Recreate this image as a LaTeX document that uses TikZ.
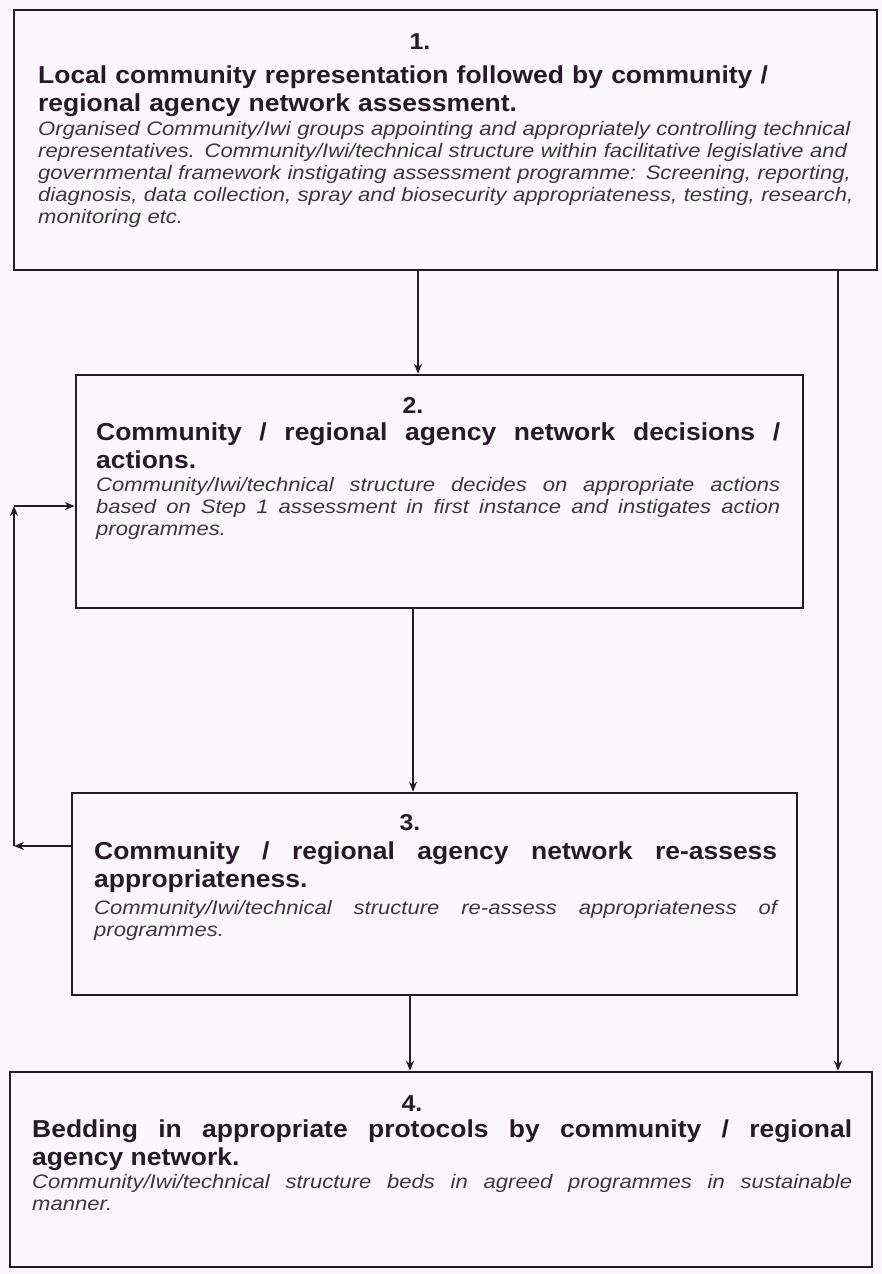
\documentclass[tikz,border=0pt]{standalone}
\usepackage{fontspec}
\setmainfont{Liberation Sans}
\newfontfamily\headfont[FakeStretch=1.08]{Liberation Sans}
\newfontfamily\bodyfont[FakeStretch=1.13]{Liberation Sans}
\usetikzlibrary{arrows.meta}
\definecolor{ink}{RGB}{38,26,40}
\definecolor{bodyink}{RGB}{60,55,62}
\definecolor{paper}{RGB}{250,247,250}
\tikzset{
  box/.style={draw=ink, line width=2.6pt, rectangle, inner sep=0pt},
  num/.style={font=\headfont\bfseries\fontsize{23}{25}\selectfont, text=ink, inner sep=0pt},
  head/.style={font=\headfont\bfseries\fontsize{24.5}{27.5}\selectfont, text=ink, inner sep=0pt, anchor=north west},
  body/.style={font=\bodyfont\itshape\fontsize{19.5}{22}\selectfont, text=bodyink, inner sep=0pt, anchor=north west},
  arr/.style={draw=ink, line width=1.4pt, -{Stealth[length=10pt,width=8pt]}}
}
\begin{document}
\begin{tikzpicture}[x=1pt,y=-1pt]
\fill[paper] (0,0) rectangle (882,1274);
\useasboundingbox (0,0) rectangle (882,1274);
% boxes
\node[box, minimum width=863pt, minimum height=260pt] (b1) at (445.5,140) {};
\node[box, minimum width=727pt, minimum height=233pt] (b2) at (439.5,491.5) {};
\node[box, minimum width=725pt, minimum height=202pt] (b3) at (434.5,894) {};
\node[box, minimum width=862pt, minimum height=195pt] (b4) at (441,1169.5) {};
% box 1
\node[num] (n1) at (420,42) {1.};
\node[head, text width=830pt, align=left] (h1) at (38,66) {Local community representation followed by community /\\regional agency network assessment.};
\node[body, text width=830pt, align=left] (t1) at (38,121) {Organised Community/Iwi groups appointing and appropriately controlling technical\\representatives. Community/Iwi/technical structure within facilitative legislative and\\governmental framework instigating assessment programme: Screening, reporting,\\diagnosis, data collection, spray and biosecurity appropriateness, testing, research,\\monitoring etc.};
% box 2
\node[num] (n2) at (413,405) {2.};
\node[head, text width=684pt, align=justify] (h2) at (96,423) {Community / regional agency network decisions /\linebreak actions.};
\node[body, text width=684pt, align=justify] (t2) at (96,477) {Community/Iwi/technical structure decides on appropriate actions\linebreak based on Step 1 assessment in first instance and instigates action\linebreak programmes.};
% box 3
\node[num] (n3) at (410,823) {3.};
\node[head, text width=683pt, align=justify] (h3) at (94,842) {Community / regional agency network re-assess\linebreak appropriateness.};
\node[body, text width=683pt, align=justify] (t3) at (94,900) {Community/Iwi/technical structure re-assess appropriateness of\linebreak programmes.};
% box 4
\node[num] (n4) at (412,1104) {4.};
\node[head, text width=820pt, align=justify] (h4) at (32,1120) {Bedding in appropriate protocols by community / regional\linebreak agency network.};
\node[body, text width=820pt, align=justify] (t4) at (32,1174) {Community/Iwi/technical structure beds in agreed programmes in sustainable\linebreak manner.};
% connector x positions
\coordinate (x12) at (418,0);
\coordinate (x23) at (413,0);
\coordinate (x34) at (410,0);
\coordinate (xr) at (838,0);
\coordinate (fbx) at (14,0);
\coordinate (fbtop) at (0,506);
\coordinate (fbbot) at (0,846);
\draw[arr] (b1.south -| x12) -- (b2.north -| x12);
\draw[arr] (b2.south -| x23) -- (b3.north -| x23);
\draw[arr] (b3.south -| x34) -- (b4.north -| x34);
\draw[arr] (b1.south -| xr) -- (b4.north -| xr);
% feedback loop
\coordinate (c1) at (fbx |- fbbot);
\coordinate (c2) at (fbx |- fbtop);
\draw[arr] (b3.west |- fbbot) -- (c1);
\draw[arr] (c1) -- (c2);
\draw[arr] (c2) -- (b2.west |- fbtop);
\end{tikzpicture}
\end{document}
